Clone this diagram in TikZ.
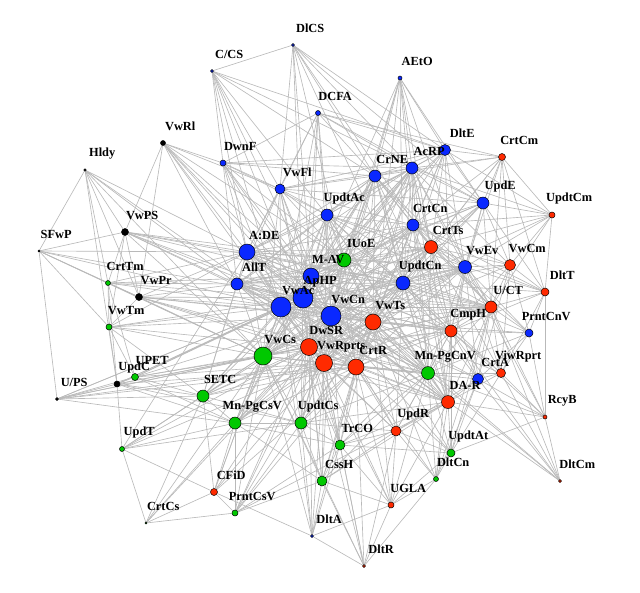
\documentclass[tikz,border=0pt]{standalone}
\usepackage{fontspec}
\setmainfont{Liberation Serif}
\usetikzlibrary{backgrounds}

\definecolor{nblue}{RGB}{10,40,255}
\definecolor{nred}{RGB}{255,42,0}
\definecolor{ngreen}{RGB}{0,200,0}
\definecolor{edgegray}{RGB}{185,185,185}

\tikzset{
  v/.style={draw=black,circle,inner sep=0pt,line width=0.35pt},
  nb/.style={v,fill=nblue},
  nr/.style={v,fill=nred},
  ng/.style={v,fill=ngreen},
  nk/.style={v,fill=black},
  sz/.style={minimum size=#1*0.5mm},
  lbl/.style={font=\bfseries\fontsize{8.8}{10}\selectfont,inner sep=0pt,xshift=4.3mm,yshift=4.1mm},
  tag/.style={label={[lbl]center:#1}},
  edge/.style={draw=edgegray,line width=0.45pt}
}

\def\hubs{vwac,aphp,vwcn,mav,ade,allt,vwcs,dwsr,vwrprts,crtr,vwts,updtcn,crne,acrp,crtcn,crtts,iuoe,vwev,updtac,cmph,uct,mnpgcnv,dar}

\begin{document}
\begin{tikzpicture}[x=0.025cm,y=-0.025cm]
  \useasboundingbox (0,0) rectangle (640,593);

  % top
  \node[nb,sz=1.5,tag=DlCS] (dlcs) at (293,45) {};
  \node[nb,sz=1.5,tag=C/CS] (ccs) at (212,71) {};
  \node[nb,sz=2,tag=AEtO] (aeto) at (400,78) {};
  \node[nb,sz=2.5,tag=DCFA] (dcfa) at (318,113) {};
  \node[nk,sz=2.5,tag=VwRl] (vwrl) at (163,143) {};
  \node[nb,sz=5.5,tag=DltE] (dlte) at (445,150) {};
  \node[nr,sz=3.5,tag=CrtCm] (crtcm) at (502,157) {};
  \node[nb,sz=3,tag=DwnF] (dwnf) at (223,163) {};
  \node[nb,sz=6,tag=AcRP] (acrp) at (412,168) {};
  \node[nk,sz=1.2,tag=Hldy] (hldy) at (85,170) {};
  \node[nb,sz=6,tag=CrNE] (crne) at (375,176) {};
  \node[nb,sz=5,tag=VwFl] (vwfl) at (280,189) {};
  \node[nb,sz=6,tag=UpdE] (upde) at (483,203) {};
  \node[nr,sz=3,tag=UpdtCm] (updtcm) at (552,215) {};
  \node[nb,sz=6,tag=UpdtAc] (updtac) at (327,215) {};
  \node[nb,sz=6,tag=CrtCn] (crtcn) at (413,225) {};
  \node[nk,sz=3.5,tag=VwPS] (vwps) at (125,232) {};
  \node[nr,sz=6.5,tag=CrtTs] (crtts) at (431,247) {};
  \node[nk,sz=1,tag=SFwP] (sfwp) at (39,251) {};

  % middle
  \node[nb,sz=8,tag=A{:}DE] (ade) at (247,252) {};
  \node[ng,sz=7,tag=IUoE] (iuoe) at (344,260) {};
  \node[nr,sz=5.5,tag=VwCm] (vwcm) at (510,265) {};
  \node[nb,sz=6.5,tag=VwEv] (vwev) at (465,267) {};
  \node[nb,sz=8,tag=M-AV] (mav) at (311,276) {};
  \node[nb,sz=7,tag=UpdtCn] (updtcn) at (403,283) {};
  \node[ng,sz=2.5,tag=CrtTm] (crttm) at (108,283) {};
  \node[nb,sz=6,tag=AllT] (allt) at (237,284) {};
  \node[nr,sz=4,tag=DltT] (dltt) at (545,292) {};
  \node[nk,sz=3.5,tag=VwPr] (vwpr) at (139,297) {};
  \node[nb,sz=10,tag=ApHP] (aphp) at (303,298) {};
  \node[nr,sz=6,tag=U/CT] (uct) at (491,307) {};
  \node[nb,sz=10,tag=VwAc] (vwac) at (281,307) {};
  \node[nb,sz=10,tag=VwCn] (vwcn) at (331,316) {};
  \node[nr,sz=8,tag=VwTs] (vwts) at (373,322) {};
  \node[ng,sz=3,tag=VwTm] (vwtm) at (109,327) {};
  \node[nr,sz=6,tag=CmpH] (cmph) at (451,331) {};
  \node[nb,sz=4,tag=PrntCnV] (prntcnv) at (529,333) {};
  \node[nr,sz=8.5,tag=DwSR] (dwsr) at (309,347) {};
  \node[ng,sz=9,tag=VwCs] (vwcs) at (263,356) {};
  \node[nr,sz=8.5,tag=VwRprts] (vwrprts) at (324,363) {};
  \node[nr,sz=8,tag=CrtR] (crtr) at (356,367) {};
  \node[ng,sz=6.5,tag=Mn-PgCnV] (mnpgcnv) at (428,373) {};
  \node[nr,sz=4.5,tag=ViwRprt] (viwrprt) at (501,373) {};
  \node[nb,sz=5.5,tag=CrtA] (crta) at (478,379) {};
  \node[ng,sz=3.5,tag=UPET] (upet) at (135,377) {};
  \node[nk,sz=3,tag=UpdC] (updc) at (117,384) {};
  \node[nk,sz=1.5,tag=U/PS] (ups) at (57,399) {};
  \node[ng,sz=6,tag=SETC] (setc) at (203,396) {};
  \node[nr,sz=6.5,tag=DA-R] (dar) at (448,402) {};

  % bottom
  \node[nr,sz=2,tag=RcyB] (rcyb) at (545,417) {};
  \node[ng,sz=6,tag=Mn-PgCsV] (mnpgcsv) at (235,423) {};
  \node[ng,sz=6,tag=UpdtCs] (updtcs) at (301,423) {};
  \node[nr,sz=5,tag=UpdR] (updr) at (396,431) {};
  \node[ng,sz=5,tag=TrCO] (trco) at (340,445) {};
  \node[ng,sz=4,tag=UpdtAt] (updtat) at (451,453) {};
  \node[ng,sz=2.5,tag=UpdT] (updt) at (122,449) {};
  \node[ng,sz=2.5,tag=DltCn] (dltcn) at (436,479) {};
  \node[nr,sz=1.5,tag=DltCm] (dltcm) at (560,481) {};
  \node[ng,sz=5,tag=CssH] (cssh) at (322,481) {};
  \node[nr,sz=3.5,tag=CFiD] (cfid) at (214,492) {};
  \node[nr,sz=3,tag=UGLA] (ugla) at (391,505) {};
  \node[ng,sz=3,tag=PrntCsV] (prntcsv) at (235,513) {};
  \node[ng,sz=1,tag=CrtCs] (crtcs) at (146,523) {};
  \node[nb,sz=1.5,tag=DltA] (dlta) at (312,536) {};
  \node[nr,sz=1.5,tag=DltR] (dltr) at (364,566) {};

  \begin{scope}[on background layer]
    % dense core
    \foreach \a [count=\i] in \hubs
      \foreach \b [count=\j] in \hubs
        {\ifnum\j>\i \draw[edge] (\a) -- (\b);\fi}
    % the rest
    \foreach \a/\bs in {
      dlcs/{ccs,vwfl,mav,aphp,crne,acrp,dlte,upde,updtcn,crtts,iuoe},
      ccs/{vwfl,dwnf,updtac,crne,acrp,vwac,aphp,mav,dlte,ade},
      aeto/{crne,acrp,dlte,updtcn,crtcn,iuoe,mav,vwcn,vwts,crtts,upde,vwev},
      dcfa/{vwfl,crne,acrp,dlte,upde,updtac,mav,aphp,vwac,ade,dwnf,crtcm,vwcn},
      vwrl/{dwnf,vwfl,ade,allt,vwac,aphp,vwps,vwpr,mav,vwcn,iuoe},
      hldy/{sfwp,vwpr,crttm,ade,allt,vwac,vwcs,updc,vwps},
      sfwp/{vwps,crttm,vwpr,vwtm,ups,ade,vwac,aphp,vwcs},
      dwnf/{vwfl,crne,acrp,ade,allt,vwac,aphp,mav,updtac,dlte,vwcn,iuoe},
      vwfl/{crne,acrp,ade,allt,vwac,aphp,mav,updtac,vwcn,iuoe,dlte,upde,crtcn,vwcs,dwsr,updtcn},
      vwps/{crttm,vwpr,vwtm,ade,allt,vwac,aphp,vwcn,mav,iuoe,updtcn,vwcs},
      crttm/{vwpr,vwtm,updc,upet,ade,allt,vwac,vwcs,mav,aphp},
      vwpr/{vwtm,ade,allt,vwac,aphp,vwcn,dwsr,vwcs,crtr,mnpgcnv,vwts},
      vwtm/{upet,updc,ade,vwac,vwcs,dwsr,vwcn,setc,aphp},
      upet/{updc,ups,vwcs,vwac,aphp,dwsr,vwrprts,setc,mnpgcsv,vwcn},
      updc/{ups,updt,vwcs,vwac,dwsr,crtr,setc,mnpgcsv,updtcs,aphp},
      ups/{vwcs,vwac,aphp,dwsr,setc,crtr,vwrprts,mnpgcsv},
      updt/{vwcs,setc,mnpgcsv,updtcs,dwsr,vwrprts,cfid,ade,crtcs},
      setc/{vwcs,dwsr,vwrprts,crtr,vwac,aphp,vwcn,updtcs,mnpgcsv,ade,allt,cfid,crtcs,mav,vwts},
      mnpgcsv/{vwcs,dwsr,vwrprts,crtr,vwac,aphp,vwcn,mav,updtcs,cssh,prntcsv,cfid,trco,vwts,updtcn},
      updtcs/{vwcs,dwsr,vwrprts,crtr,vwac,aphp,vwcn,mav,vwts,cssh,trco,prntcsv,dlta,updr,mnpgcnv,dar,iuoe,updtcn},
      cfid/{crtcs,prntcsv,vwcs,dwsr,vwrprts,dlta,crtr,vwac},
      prntcsv/{crtcs,vwcs,dwsr,vwrprts,crtr,trco,dar,cssh,vwcn},
      crtcs/{vwcs,dwsr,mnpgcsv},
      dlta/{vwcs,vwac,dwsr,vwrprts,crtr,cssh,trco,ugla,dltr},
      cssh/{trco,updr,vwrprts,crtr,dwsr,vwcs,vwts,mnpgcnv,dar,ugla,dltr,vwcn,aphp},
      trco/{updr,dwsr,vwrprts,crtr,vwts,vwcn,mnpgcnv,dar,cmph,updtat,aphp,vwac},
      dltr/{ugla,trco,dwsr,vwrprts,crtr,vwcs,dltcn,updr},
      ugla/{dltcn,updr,trco,crtr,vwrprts,dwsr,vwts,mnpgcnv,dar,updtat},
      updr/{dar,mnpgcnv,cmph,crta,crtr,vwts,vwrprts,dwsr,updtat,dltcn,vwcn,updtcn},
      updtat/{dar,crta,viwrprt,mnpgcnv,cmph,uct,crtr,vwts,rcyb,dltcn,vwcn},
      dltcn/{dar,mnpgcnv,crtr,vwts,crta,cmph,uct},
      rcyb/{dltcm,crta,viwrprt,dar,mnpgcnv,cmph,uct,vwev,prntcnv,dltt},
      dltcm/{viwrprt,crta,dar,mnpgcnv,cmph,uct,vwts},
      viwrprt/{crta,prntcnv,uct,cmph,dar,mnpgcnv,vwev,vwcm,dltt,crtts,updtcn,vwts},
      crta/{dar,cmph,uct,crtr,vwts,vwcn,updtcn,vwev,vwcm,prntcnv,crtts},
      prntcnv/{dltt,vwcm,uct,cmph,vwev,updtcn,crtts,vwts,mnpgcnv},
      dltt/{vwcm,uct,vwev,upde,updtcm,crtcm,cmph,crtts,updtcn,crtcn},
      vwcm/{crtcm,updtcm,upde,vwev,uct,cmph,crtts,crtcn,updtcn,vwts,acrp},
      updtcm/{crtcm,upde,vwev,uct,crtts,crtcn,acrp,dlte,updtcn},
      crtcm/{dlte,acrp,upde,vwev,crtcn,crtts,updtcn,uct,crne},
      upde/{acrp,dlte,crne,crtcn,crtts,vwev,uct,updtcn,cmph,iuoe,vwts,vwcn,mav},
      dlte/{acrp,crne,crtcn,crtts,vwev,updtcn,iuoe,vwcn,vwts,cmph,mav,updtac}}
      \foreach \b in \bs \draw[edge] (\a) -- (\b);
  \end{scope}
\end{tikzpicture}
\end{document}
